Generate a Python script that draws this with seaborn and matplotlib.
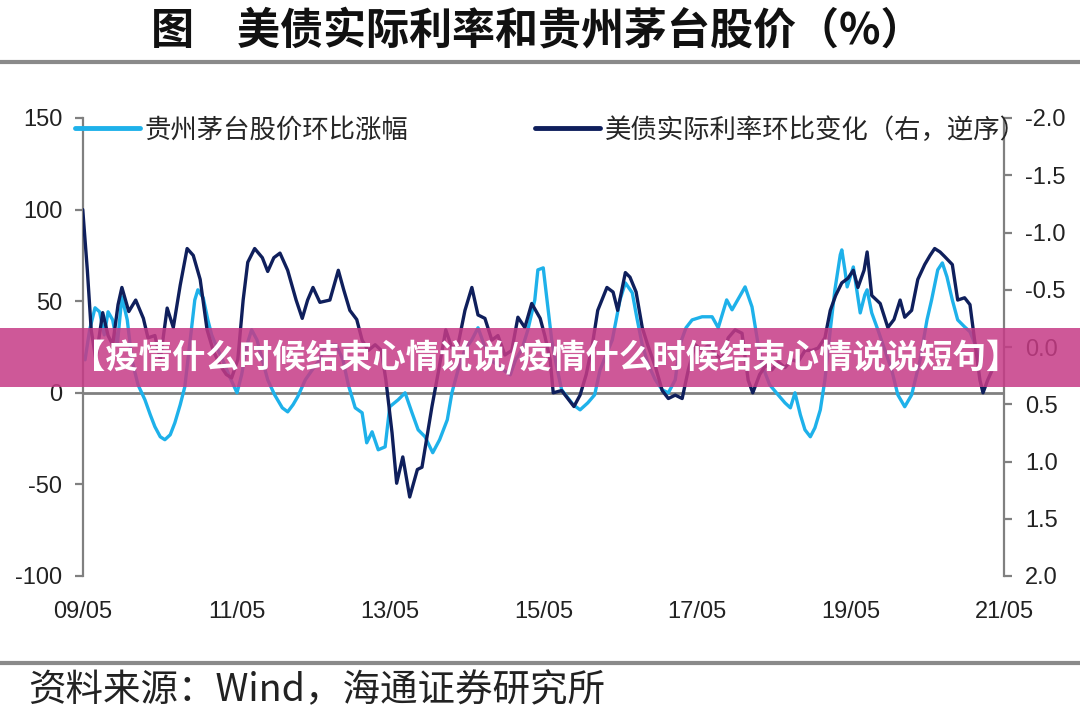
import numpy as np
import pandas as pd
import matplotlib.pyplot as plt
import seaborn as sns
from matplotlib.lines import Line2D
from matplotlib.patches import Rectangle

# ── Data (time in decimal years) ─────────────────────────────────────────────
MOUTAI_T = [2009.36, 2009.42, 2009.49, 2009.55, 2009.61, 2009.66, 2009.72, 2009.78, 2009.84, 2009.91,
            2009.97, 2010.05, 2010.14, 2010.21, 2010.27, 2010.34, 2010.40, 2010.47, 2010.53, 2010.60,
            2010.66, 2010.73, 2010.79, 2010.83, 2010.90, 2010.96, 2011.01, 2011.09, 2011.18, 2011.25,
            2011.34, 2011.40, 2011.47, 2011.53, 2011.60, 2011.67, 2011.74, 2011.83, 2011.93, 2012.00,
            2012.07, 2012.13, 2012.23, 2012.32, 2012.40, 2012.47, 2012.55, 2012.63, 2012.72, 2012.79,
            2012.88, 2012.97, 2013.03, 2013.10, 2013.18, 2013.27, 2013.33, 2013.44, 2013.53, 2013.62,
            2013.70, 2013.79, 2013.89, 2013.98, 2014.08, 2014.14, 2014.22, 2014.31, 2014.40, 2014.48,
            2014.56, 2014.64, 2014.73, 2014.81, 2014.90, 2014.97, 2015.05, 2015.13, 2015.22, 2015.26,
            2015.33, 2015.39, 2015.44, 2015.50, 2015.57, 2015.65, 2015.72, 2015.81, 2015.91, 2016.00,
            2016.07, 2016.15, 2016.23, 2016.33, 2016.40, 2016.49, 2016.55, 2016.62, 2016.70, 2016.79,
            2016.88, 2016.96, 2017.05, 2017.11, 2017.19, 2017.27, 2017.40, 2017.53, 2017.61, 2017.72,
            2017.79, 2017.96, 2018.05, 2018.12, 2018.18, 2018.28, 2018.39, 2018.48, 2018.55, 2018.61,
            2018.68, 2018.74, 2018.81, 2018.87, 2018.94, 2019.00, 2019.07, 2019.13, 2019.20, 2019.22,
            2019.26, 2019.29, 2019.37, 2019.46, 2019.52, 2019.55, 2019.61, 2019.69, 2019.78, 2019.87,
            2019.95, 2020.04, 2020.13, 2020.24, 2020.33, 2020.39, 2020.47, 2020.53, 2020.59, 2020.66,
            2020.73, 2020.82, 2020.89, 2020.96, 2021.02]
MOUTAI_V = [18.0, 34.4, 46.4, 44.2, 31.6, 44.2, 39.8, 26.2, 52.4, 39.8,
            18.0, 4.4, -3.8, -12.0, -18.5, -24.0, -25.6, -22.9, -16.4, -6.5,
            3.3, 28.9, 50.7, 56.2, 51.8, 39.8, 31.6, 23.5, 15.3, 8.2,
            0.0, 9.8, 26.2, 34.4, 28.9, 18.0, 7.1, -1.1, -8.2, -10.4,
            -6.5, -2.2, 7.1, 12.5, 16.9, 23.5, 26.2, 26.2, 18.0, 4.4,
            -8.2, -10.9, -27.3, -21.3, -31.1, -29.5, -7.6, -3.8, 0.0, -10.9,
            -20.2, -24.0, -32.7, -25.6, -14.7, 0.0, 12.5, 23.5, 28.9, 35.5,
            26.2, 18.0, 15.3, 12.5, 9.8, 18.0, 23.5, 34.4, 50.7, 67.1,
            68.2, 46.9, 28.9, 15.3, 1.6, -2.7, -6.5, -9.3, -5.5, -1.1,
            12.5, 20.7, 28.9, 50.7, 60.0, 54.6, 40.9, 26.2, 15.3, 7.1,
            1.6, 0.0, 7.1, 26.2, 35.5, 39.8, 41.5, 41.5, 35.5, 50.7,
            45.3, 57.8, 46.9, 28.9, 15.3, 4.4, -1.1, -5.5, -8.2, 0.0,
            -12.0, -20.2, -24.0, -19.1, -9.3, 7.1, 34.4, 56.2, 75.3, 78.0,
            67.1, 57.8, 68.7, 43.6, 53.5, 56.2, 43.6, 34.4, 23.5, 12.5,
            -1.1, -7.6, -1.1, 18.0, 39.8, 50.7, 67.1, 70.9, 63.3, 50.7,
            39.8, 36.0, 33.3, 26.2, 18.0]

RATE_T = [2009.33, 2009.39, 2009.44, 2009.50, 2009.59, 2009.66, 2009.72, 2009.79, 2009.84, 2009.93,
          2010.02, 2010.12, 2010.18, 2010.27, 2010.34, 2010.43, 2010.51, 2010.60, 2010.69, 2010.77,
          2010.86, 2010.95, 2011.03, 2011.12, 2011.20, 2011.27, 2011.35, 2011.42, 2011.48, 2011.57,
          2011.67, 2011.74, 2011.82, 2011.90, 2012.00, 2012.11, 2012.19, 2012.26, 2012.33, 2012.42,
          2012.55, 2012.66, 2012.73, 2012.81, 2012.90, 2012.97, 2013.05, 2013.14, 2013.22, 2013.28,
          2013.36, 2013.42, 2013.50, 2013.59, 2013.69, 2013.75, 2013.88, 2013.96, 2014.06, 2014.14,
          2014.22, 2014.31, 2014.40, 2014.48, 2014.57, 2014.66, 2014.74, 2014.83, 2014.92, 2015.00,
          2015.09, 2015.18, 2015.29, 2015.35, 2015.42, 2015.46, 2015.57, 2015.65, 2015.73, 2015.81,
          2015.89, 2015.97, 2016.04, 2016.16, 2016.24, 2016.30, 2016.40, 2016.46, 2016.54, 2016.62,
          2016.69, 2016.79, 2016.88, 2016.96, 2017.05, 2017.14, 2017.22, 2017.31, 2017.40, 2017.49,
          2017.58, 2017.66, 2017.74, 2017.83, 2017.92, 2018.00, 2018.06, 2018.15, 2018.23, 2018.31,
          2018.39, 2018.48, 2018.57, 2018.65, 2018.74, 2018.83, 2018.91, 2019.00, 2019.07, 2019.14,
          2019.22, 2019.30, 2019.37, 2019.43, 2019.51, 2019.55, 2019.61, 2019.72, 2019.82, 2019.90,
          2019.98, 2020.04, 2020.13, 2020.21, 2020.30, 2020.37, 2020.43, 2020.50, 2020.56, 2020.66,
          2020.73, 2020.82, 2020.89, 2020.95, 2021.02, 2021.06, 2021.12, 2021.18]
RATE_V = [-1.20, -0.67, -0.15, 0.11, -0.30, -0.10, -0.02, -0.37, -0.52, -0.31,
          -0.41, -0.25, -0.08, -0.10, 0.11, -0.34, -0.17, -0.54, -0.86, -0.80,
          -0.59, -0.15, 0.03, 0.16, 0.24, 0.27, 0.11, -0.41, -0.74, -0.86,
          -0.78, -0.66, -0.78, -0.82, -0.67, -0.41, -0.25, -0.41, -0.52, -0.39,
          -0.41, -0.67, -0.50, -0.32, -0.24, -0.06, 0.03, -0.02, 0.03, 0.29,
          0.75, 1.19, 0.96, 1.31, 1.07, 1.05, 0.52, 0.23, -0.15, 0.01,
          -0.02, -0.32, -0.52, -0.28, -0.25, -0.06, -0.10, 0.07, 0.03, -0.26,
          -0.17, -0.38, -0.25, -0.10, 0.11, 0.40, 0.38, 0.45, 0.52, 0.42,
          0.24, -0.02, -0.32, -0.52, -0.48, -0.32, -0.65, -0.61, -0.48, -0.17,
          -0.02, 0.17, 0.38, 0.45, 0.42, 0.45, 0.20, -0.02, 0.03, -0.02,
          0.07, 0.11, -0.08, -0.15, -0.12, 0.29, 0.40, 0.24, 0.16, 0.20,
          0.13, 0.18, 0.11, 0.13, 0.03, 0.03, 0.01, -0.08, -0.32, -0.45,
          -0.56, -0.60, -0.67, -0.52, -0.67, -0.83, -0.45, -0.38, -0.17, -0.24,
          -0.41, -0.26, -0.32, -0.59, -0.72, -0.80, -0.86, -0.83, -0.79, -0.72,
          -0.41, -0.43, -0.37, -0.06, 0.29, 0.40, 0.29, 0.20]

TICK_YEARS = [2009, 2011, 2013, 2015, 2017, 2019, 2021]
TICK_LABELS = ["09/05", "11/05", "13/05", "15/05", "17/05", "19/05", "21/05"]
LEFT_TICKS = [-100, -50, 0, 50, 100, 150]
LEFT_LABELS = ["-100", "-50", "0", "50", "100", "150"]
RIGHT_TICKS = [-2.0, -1.5, -1.0, -0.5, 0.0, 0.5, 1.0, 1.5, 2.0]
RIGHT_LABELS = ["-2.0", "-1.5", "-1.0", "-0.5", "0.0", "0.5", "1.0", "1.5", "2.0"]

TITLE = "图\u3000美债实际利率和贵州茅台股价（%）"
LEGEND_MOUTAI = "贵州茅台股价环比涨幅"
LEGEND_RATE = "美债实际利率环比变化（右，逆序）"
SOURCE = "资料来源：Wind，海通证券研究所"
BANNER = "【疫情什么时候结束心情说说/疫情什么时候结束心情说说短句】"

LIGHT_BLUE = "#1eb1ea"
NAVY = "#0f1f5c"
AXIS_GRAY = "#808080"

sns.set_theme(style="white")
plt.rcParams["font.family"] = ["Liberation Sans", "DejaVu Sans"]
CJK = ["Noto Sans CJK SC", "DejaVu Sans"]

moutai = pd.DataFrame({"t": MOUTAI_T, "v": MOUTAI_V})
rate = pd.DataFrame({"t": RATE_T, "v": RATE_V})

W, H = 1080, 719
fig = plt.figure(figsize=(W / 100, H / 100), dpi=100)
fig.patch.set_facecolor("white")
ax = fig.add_axes([83 / W, 1 - 576 / H, (1004 - 83) / W, (576 - 118) / H])
ax2 = ax.twinx()

sns.lineplot(data=moutai, x="t", y="v", ax=ax, color=LIGHT_BLUE, lw=2.4, sort=False)
sns.lineplot(data=rate, x="t", y="v", ax=ax2, color=NAVY, lw=2.4, sort=False)

start = TICK_YEARS[0] + 4 / 12
ax.set_xlim(start, TICK_YEARS[-1] + 4 / 12)
ax.set_ylim(-100, 150)
ax2.set_ylim(2.0, -2.0)
ax.axhline(0, color=AXIS_GRAY, lw=2, zorder=1)

ax.set_xticks([y + 4 / 12 for y in TICK_YEARS])
ax.set_xticklabels(TICK_LABELS)
ax.set_yticks(LEFT_TICKS)
ax.set_yticklabels(LEFT_LABELS)
ax2.set_yticks(RIGHT_TICKS)
ax2.set_yticklabels(RIGHT_LABELS)

for a in (ax, ax2):
    a.set_xlabel("")
    a.set_ylabel("")
    a.grid(False)
    for s in a.spines.values():
        s.set_visible(False)
ax.spines["left"].set_visible(True)
ax.spines["left"].set_color(AXIS_GRAY)
ax.spines["left"].set_linewidth(1.6)
ax2.spines["right"].set_visible(True)
ax2.spines["right"].set_color(AXIS_GRAY)
ax2.spines["right"].set_linewidth(1.6)

ax.tick_params(axis="x", length=0, pad=18, labelsize=17, colors="#222222")
ax.tick_params(axis="y", direction="out", length=6, width=1.6, color=AXIS_GRAY,
               pad=9, labelsize=17, labelcolor="#222222", left=True)
ax2.tick_params(axis="y", direction="out", length=6, width=1.6, color=AXIS_GRAY,
                pad=9, labelsize=17, labelcolor="#222222", right=True)

handles = [Line2D([], [], color=LIGHT_BLUE, lw=3.5), Line2D([], [], color=NAVY, lw=3.5)]
fig.legend(handles, [LEGEND_MOUTAI, LEGEND_RATE], loc="center left",
           bbox_to_anchor=(75 / W, 1 - 130 / H), ncol=2, frameon=False,
           handlelength=2.45, handletextpad=0.2, columnspacing=4.8,
           borderpad=0, borderaxespad=0, prop={"family": CJK, "size": 19})

# title, separators and source
fig.text(537 / W, 1 - 30 / H, TITLE, ha="center", va="center", fontsize=31,
         family=CJK, fontweight="bold", color="#111111")
fig.add_artist(Line2D([0, 1], [1 - 62 / H] * 2, color="#8a8a8a", lw=3, transform=fig.transFigure))
fig.add_artist(Line2D([0, 1], [1 - 663 / H] * 2, color="#8a8a8a", lw=3, transform=fig.transFigure))
fig.text(28 / W, 1 - 691 / H, SOURCE, ha="left", va="center", fontsize=27,
         family=CJK, color="#222222")

# overlay banner
fig.add_artist(Rectangle((0, 1 - 387 / H), 1, 59 / H, transform=fig.transFigure,
                         facecolor="#c63b86", alpha=0.85, edgecolor="none", zorder=10))
fig.text(546 / W, 1 - 358 / H, BANNER, ha="center", va="center", fontsize=24,
         family=CJK, fontweight="bold", color="white", zorder=11)

fig.savefig("out.png", dpi=100)
